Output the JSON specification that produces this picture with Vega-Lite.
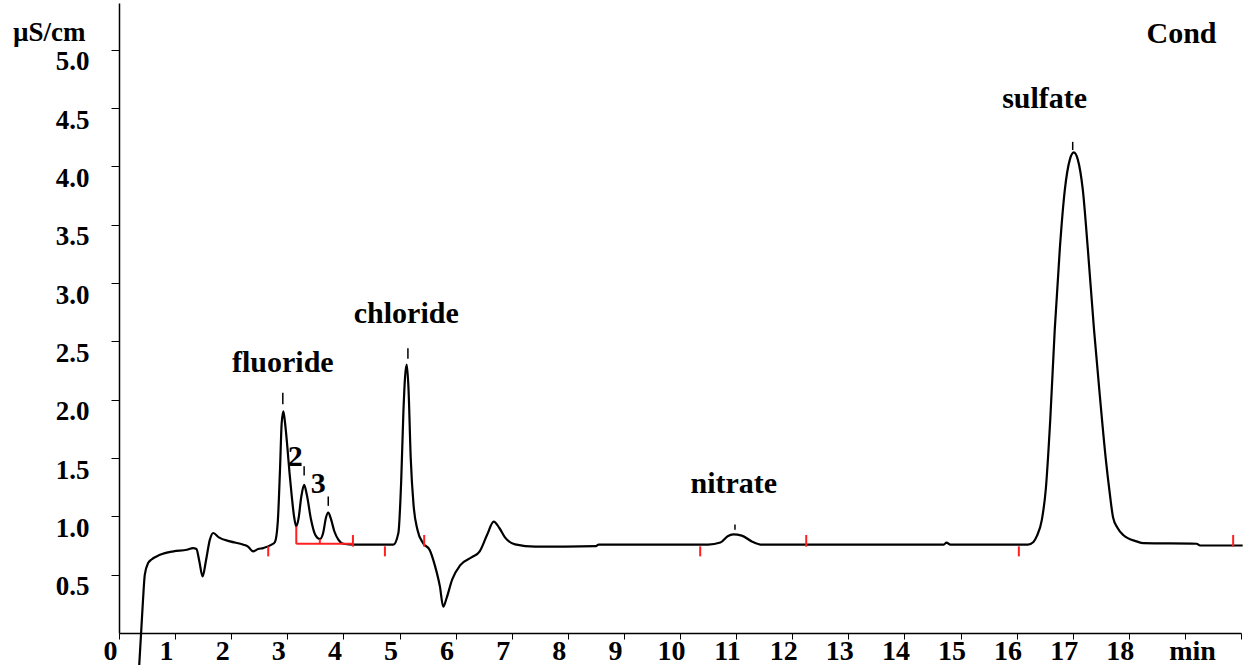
{
  "$schema": "https://vega.github.io/schema/vega-lite/v6.json",
  "autosize": {"type": "none"},
  "padding": {"left": 119, "top": 3, "right": 6, "bottom": 32},
  "width": 1122,
  "height": 630,
  "background": "white",
  "config": {"view": {"stroke": null}},
  "datasets": {
    "trace": [
      {"t": 0.36, "v": -0.28}, {"t": 0.4, "v": 0.05}, {"t": 0.43, "v": 0.3}, {"t": 0.46, "v": 0.5},
      {"t": 0.52, "v": 0.6}, {"t": 0.58, "v": 0.63}, {"t": 0.73, "v": 0.67}, {"t": 0.97, "v": 0.7},
      {"t": 1.21, "v": 0.714}, {"t": 1.32, "v": 0.728}, {"t": 1.38, "v": 0.72}, {"t": 1.43, "v": 0.62},
      {"t": 1.49, "v": 0.485}, {"t": 1.55, "v": 0.62}, {"t": 1.62, "v": 0.8}, {"t": 1.68, "v": 0.857},
      {"t": 1.78, "v": 0.82}, {"t": 1.98, "v": 0.785}, {"t": 2.22, "v": 0.757}, {"t": 2.3, "v": 0.74},
      {"t": 2.39, "v": 0.7}, {"t": 2.48, "v": 0.72}, {"t": 2.57, "v": 0.728}, {"t": 2.72, "v": 0.757},
      {"t": 2.78, "v": 0.78}, {"t": 2.83, "v": 0.95}, {"t": 2.87, "v": 1.4}, {"t": 2.9, "v": 1.8},
      {"t": 2.93, "v": 1.9}, {"t": 2.96, "v": 1.8}, {"t": 3.0, "v": 1.6}, {"t": 3.04, "v": 1.37},
      {"t": 3.08, "v": 1.17}, {"t": 3.12, "v": 1.0}, {"t": 3.16, "v": 0.913}, {"t": 3.2, "v": 0.98},
      {"t": 3.25, "v": 1.17}, {"t": 3.3, "v": 1.27}, {"t": 3.35, "v": 1.18}, {"t": 3.42, "v": 0.98},
      {"t": 3.5, "v": 0.84}, {"t": 3.58, "v": 0.805}, {"t": 3.64, "v": 0.86}, {"t": 3.69, "v": 0.99},
      {"t": 3.73, "v": 1.033}, {"t": 3.77, "v": 0.99}, {"t": 3.84, "v": 0.87}, {"t": 3.91, "v": 0.8},
      {"t": 4.0, "v": 0.765}, {"t": 4.2, "v": 0.757}, {"t": 4.89, "v": 0.757}, {"t": 4.98, "v": 0.857},
      {"t": 5.03, "v": 1.3}, {"t": 5.07, "v": 1.9}, {"t": 5.1, "v": 2.2}, {"t": 5.13, "v": 2.3},
      {"t": 5.16, "v": 2.1}, {"t": 5.2, "v": 1.5}, {"t": 5.25, "v": 1.1}, {"t": 5.32, "v": 0.885},
      {"t": 5.42, "v": 0.77}, {"t": 5.54, "v": 0.71}, {"t": 5.63, "v": 0.58}, {"t": 5.72, "v": 0.4},
      {"t": 5.78, "v": 0.225}, {"t": 5.84, "v": 0.3}, {"t": 5.94, "v": 0.46}, {"t": 6.08, "v": 0.58},
      {"t": 6.29, "v": 0.65}, {"t": 6.43, "v": 0.7}, {"t": 6.56, "v": 0.84}, {"t": 6.68, "v": 0.955},
      {"t": 6.78, "v": 0.9}, {"t": 6.88, "v": 0.82}, {"t": 7.06, "v": 0.76}, {"t": 7.42, "v": 0.74},
      {"t": 8.5, "v": 0.745}, {"t": 8.55, "v": 0.757}, {"t": 10.5, "v": 0.757}, {"t": 10.72, "v": 0.775},
      {"t": 10.85, "v": 0.83}, {"t": 10.95, "v": 0.845}, {"t": 11.1, "v": 0.835}, {"t": 11.28, "v": 0.785},
      {"t": 11.46, "v": 0.757}, {"t": 14.7, "v": 0.757}, {"t": 14.75, "v": 0.775}, {"t": 14.82, "v": 0.757},
      {"t": 16.2, "v": 0.757}, {"t": 16.3, "v": 0.78}, {"t": 16.36, "v": 0.83}, {"t": 16.45, "v": 0.97},
      {"t": 16.52, "v": 1.23}, {"t": 16.6, "v": 1.83}, {"t": 16.68, "v": 2.6}, {"t": 16.77, "v": 3.29},
      {"t": 16.86, "v": 3.8}, {"t": 16.95, "v": 4.06}, {"t": 17.02, "v": 4.12}, {"t": 17.09, "v": 4.06},
      {"t": 17.18, "v": 3.8}, {"t": 17.27, "v": 3.29}, {"t": 17.38, "v": 2.6}, {"t": 17.49, "v": 2.0},
      {"t": 17.59, "v": 1.49}, {"t": 17.66, "v": 1.2}, {"t": 17.72, "v": 0.99}, {"t": 17.8, "v": 0.9},
      {"t": 17.9, "v": 0.84}, {"t": 18.14, "v": 0.785}, {"t": 18.26, "v": 0.77}, {"t": 19.21, "v": 0.765},
      {"t": 19.27, "v": 0.75}, {"t": 20.03, "v": 0.75}
    ],
    "redsegs": [
      {"x": 2.66, "x2": 2.66, "y": 0.743, "y2": 0.657},
      {"x": 4.17, "x2": 4.17, "y": 0.84, "y2": 0.74},
      {"x": 4.74, "x2": 4.74, "y": 0.743, "y2": 0.657},
      {"x": 5.44, "x2": 5.44, "y": 0.84, "y2": 0.74},
      {"x": 10.36, "x2": 10.36, "y": 0.743, "y2": 0.657},
      {"x": 12.25, "x2": 12.25, "y": 0.84, "y2": 0.74},
      {"x": 16.04, "x2": 16.04, "y": 0.743, "y2": 0.657},
      {"x": 19.86, "x2": 19.86, "y": 0.84, "y2": 0.74},
      {"x": 3.16, "x2": 3.16, "y": 0.913, "y2": 0.764},
      {"x": 3.16, "x2": 4.17, "y": 0.764, "y2": 0.764},
      {"x": 3.58, "x2": 3.58, "y": 0.805, "y2": 0.764}
    ],
    "peaksegs": [
      {"x": 2.92, "x2": 2.92, "y": 2.06, "y2": 1.96},
      {"x": 5.15, "x2": 5.15, "y": 2.44, "y2": 2.35},
      {"x": 3.3, "x2": 3.3, "y": 1.43, "y2": 1.35},
      {"x": 3.73, "x2": 3.73, "y": 1.17, "y2": 1.09},
      {"x": 10.98, "x2": 10.98, "y": 0.93, "y2": 0.885},
      {"x": 17.0, "x2": 17.0, "y": 4.21, "y2": 4.14}
    ],
    "labels": [
      {"x": 2.92, "y": 2.24, "label": "fluoride"},
      {"x": 5.12, "y": 2.66, "label": "chloride"},
      {"x": 3.14, "y": 1.43, "label": "2"},
      {"x": 3.55, "y": 1.2, "label": "3"},
      {"x": 10.96, "y": 1.2, "label": "nitrate"},
      {"x": 16.5, "y": 4.5, "label": "sulfate"},
      {"x": 18.94, "y": 5.06, "label": "Cond"}
    ]
  },
  "layer": [
    {
      "data": {"name": "trace"},
      "mark": {"type": "line", "color": "black", "strokeWidth": 2.2, "clip": false, "interpolate": "monotone"},
      "encoding": {
        "x": {
          "field": "t", "type": "quantitative",
          "scale": {"domain": [0, 20], "nice": false, "zero": false},
          "axis": {
            "values": [0,1,2,3,4,5,6,7,8,9,10,11,12,13,14,15,16,17,18,19,20],
            "format": "d",
            "labelExpr": "datum.value >= 19 ? '' : datum.label",
            "grid": false,
            "domainColor": "black", "domainWidth": 1.5,
            "tickColor": "black", "tickSize": 6, "tickWidth": 1,
            "labelFont": "Liberation Serif", "labelFontWeight": "bold", "labelFontSize": 28, "labelColor": "black",
            "labelOffset": -9, "labelPadding": 20, "labelBaseline": "alphabetic", "labelFlush": false, "labelOverlap": false,
            "title": "min",
            "titleFont": "Liberation Serif", "titleFontWeight": "bold", "titleFontSize": 28, "titleColor": "black",
            "titleX": 1073, "titleY": 26, "titleBaseline": "alphabetic", "titleAlign": "center"
          }
        },
        "y": {
          "field": "v", "type": "quantitative",
          "scale": {"domain": [0, 5.4], "nice": false, "zero": false},
          "axis": {
            "values": [0.5, 1.0, 1.5, 2.0, 2.5, 3.0, 3.5, 4.0, 4.5, 5.0],
            "format": ".1f",
            "grid": false,
            "domainColor": "black", "domainWidth": 1.5,
            "tickColor": "black", "tickSize": 8, "tickWidth": 1,
            "labelFont": "Liberation Serif", "labelFontWeight": "bold", "labelFontSize": 27, "labelColor": "black",
            "labelPadding": 22, "labelOffset": 12, "labelBaseline": "middle", "labelOverlap": false,
            "title": "µS/cm",
            "titleFont": "Liberation Serif", "titleFontWeight": "bold", "titleFontSize": 27, "titleColor": "black",
            "titleAngle": 0, "titleAlign": "right", "titleBaseline": "alphabetic",
            "titleX": -34, "titleY": 37
          }
        }
      }
    },
    {
      "data": {"name": "redsegs"},
      "mark": {"type": "rule", "color": "#ff2020", "strokeWidth": 2},
      "encoding": {
        "x": {"field": "x", "type": "quantitative"},
        "x2": {"field": "x2"},
        "y": {"field": "y", "type": "quantitative"},
        "y2": {"field": "y2"}
      }
    },
    {
      "data": {"name": "peaksegs"},
      "mark": {"type": "rule", "color": "black", "strokeWidth": 1.5},
      "encoding": {
        "x": {"field": "x", "type": "quantitative"},
        "x2": {"field": "x2"},
        "y": {"field": "y", "type": "quantitative"},
        "y2": {"field": "y2"}
      }
    },
    {
      "data": {"name": "labels"},
      "mark": {"type": "text", "font": "Liberation Serif", "fontWeight": "bold", "fontSize": 30, "color": "black", "align": "center", "baseline": "alphabetic"},
      "encoding": {
        "x": {"field": "x", "type": "quantitative"},
        "y": {"field": "y", "type": "quantitative"},
        "text": {"field": "label"}
      }
    }
  ]
}
